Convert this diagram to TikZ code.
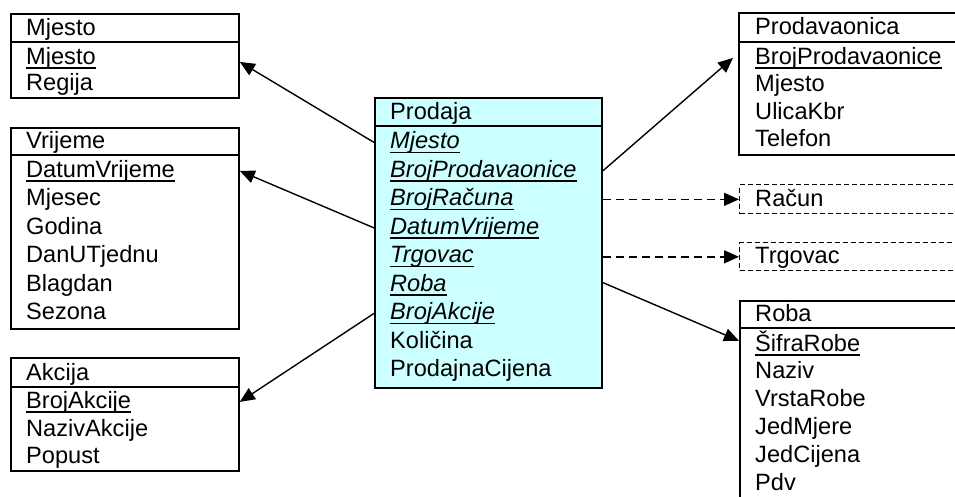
\documentclass[tikz,border=0pt]{standalone}
\usepackage{fontspec}
\setmainfont{Liberation Sans}
\usetikzlibrary{arrows.meta}
\definecolor{factfill}{HTML}{CCFFFF}

\tikzset{
  frame/.style={draw, line width=1.8pt, anchor=north west, inner sep=0pt},
  virtual/.style={draw, line width=1.3pt, dash pattern=on 5pt off 3pt, anchor=north west, inner sep=0pt},
  divider/.style={line width=1.8pt},
  field/.style={anchor=base west, inner sep=0pt, font=\fontsize{23.6pt}{28pt}\selectfont},
  keyfield/.style={field, append after command={
      \pgfextra{\draw[line width=1.5pt]
        ([yshift=-3.8pt]\tikzlastnode.base west) -- ([yshift=-3.8pt]\tikzlastnode.base east);}}},
  fkfield/.style={keyfield, font=\fontsize{23.6pt}{28pt}\selectfont\itshape},
  link/.style={line width=1.4pt, -{Triangle[length=15pt,width=13pt]}},
  weaklink/.style={link, dash pattern=on 8pt off 5pt},
}

\begin{document}
\begin{tikzpicture}[x=1pt,y=-1pt]
\useasboundingbox (0,0) rectangle (955,496);
\clip (0,0) rectangle (955,496);

% ---------- Mjesto ----------
\node[frame, minimum width=228pt, minimum height=84pt] (mjesto) at (10,13) {};
\draw[divider] ([yshift=-29pt]mjesto.north west) -- ([yshift=-29pt]mjesto.north east);
\node[field] (mjesto-h) at (26,35) {Mjesto};
\node[keyfield] (mjesto-1) at (26,64) {Mjesto};
\node[field] (mjesto-2) at (26,90) {Regija};

% ---------- Vrijeme ----------
\node[frame, minimum width=228pt, minimum height=201pt] (vrijeme) at (10,127) {};
\draw[divider] ([yshift=-28pt]vrijeme.north west) -- ([yshift=-28pt]vrijeme.north east);
\node[field] (vrijeme-h) at (26,148) {Vrijeme};
\node[keyfield] (vrijeme-1) at (26,177) {DatumVrijeme};
\node[field] (vrijeme-2) at (26,205.5) {Mjesec};
\node[field] (vrijeme-3) at (26,234) {Godina};
\node[field] (vrijeme-4) at (26,262.5) {DanUTjednu};
\node[field] (vrijeme-5) at (26,291) {Blagdan};
\node[field] (vrijeme-6) at (26,319.5) {Sezona};

% ---------- Akcija ----------
\node[frame, minimum width=228pt, minimum height=113pt] (akcija) at (10,357) {};
\draw[divider] ([yshift=-30pt]akcija.north west) -- ([yshift=-30pt]akcija.north east);
\node[field] (akcija-h) at (26,380) {Akcija};
\node[keyfield] (akcija-1) at (26,408) {BrojAkcije};
\node[field] (akcija-2) at (26,436) {NazivAkcije};
\node[field] (akcija-3) at (26,463) {Popust};

% ---------- Prodaja (fact table) ----------
\node[frame, fill=factfill, minimum width=227pt, minimum height=290pt] (prodaja) at (374,97) {};
\draw[divider] ([yshift=-29pt]prodaja.north west) -- ([yshift=-29pt]prodaja.north east);
\node[field] (prodaja-h) at (390,119) {Prodaja};
\node[fkfield] (prodaja-1) at (390,148.5) {Mjesto};
\node[fkfield] (prodaja-2) at (390,177) {BrojProdavaonice};
\node[fkfield] (prodaja-3) at (390,205.5) {BrojRačuna};
\node[fkfield] (prodaja-4) at (390,234) {DatumVrijeme};
\node[fkfield] (prodaja-5) at (390,262.5) {Trgovac};
\node[fkfield] (prodaja-6) at (390,291) {Roba};
\node[fkfield] (prodaja-7) at (390,319.5) {BrojAkcije};
\node[field] (prodaja-8) at (390,348) {Količina};
\node[field] (prodaja-9) at (390,376.5) {ProdajnaCijena};

% ---------- Prodavaonica ----------
\node[frame, minimum width=260pt, minimum height=142pt] (prodavaonica) at (738,12) {};
\draw[divider] ([yshift=-30pt]prodavaonica.north west) -- ([yshift=-30pt]prodavaonica.north east);
\node[field] (prodavaonica-h) at (755,34) {Prodavaonica};
\node[keyfield] (prodavaonica-1) at (755,64) {BrojProdavaonice};
\node[field] (prodavaonica-2) at (755,91.5) {Mjesto};
\node[field] (prodavaonica-3) at (755,119) {UlicaKbr};
\node[field] (prodavaonica-4) at (755,146.5) {Telefon};

% ---------- Račun, Trgovac (not detailed) ----------
\node[virtual, minimum width=260pt, minimum height=29pt] (racun) at (739,184) {};
\node[field] (racun-h) at (755,206) {Račun};
\node[virtual, minimum width=260pt, minimum height=28pt] (trgovac) at (739,242) {};
\node[field] (trgovac-h) at (755,263) {Trgovac};

% ---------- Roba ----------
\node[frame, minimum width=260pt, minimum height=230pt] (roba) at (739,300) {};
\draw[divider] ([yshift=-28pt]roba.north west) -- ([yshift=-28pt]roba.north east);
\node[field] (roba-h) at (755,321) {Roba};
\node[keyfield] (roba-1) at (755,351) {ŠifraRobe};
\node[field] (roba-2) at (755,378.8) {Naziv};
\node[field] (roba-3) at (755,406.6) {VrstaRobe};
\node[field] (roba-4) at (755,434.4) {JedMjere};
\node[field] (roba-5) at (755,462.2) {JedCijena};
\node[field] (roba-6) at (755,490) {Pdv};

% ---------- Connectors ----------
\draw[link] (prodaja.west |- prodaja-1.center) -- ([yshift=-4pt]mjesto.east |- mjesto-1.center);
\draw[link] (prodaja.west |- prodaja-4.center) -- (vrijeme.east |- vrijeme-1.center);
\draw[link] (prodaja.west |- prodaja-7.center) -- (akcija.east |- akcija-1.center);
\draw[link] (prodaja.east |- prodaja-2.center) -- ([xshift=-5pt]prodavaonica.west |- prodavaonica-1.center);
\draw[weaklink] (prodaja.east |- prodaja-3.center) -- (racun.west |- prodaja-3.center);
\draw[weaklink] (prodaja.east |- prodaja-5.center) -- (trgovac.west |- prodaja-5.center);
\draw[link] (prodaja.east |- prodaja-6.center) -- (roba.west |- roba-1.center);
\end{tikzpicture}
\end{document}
